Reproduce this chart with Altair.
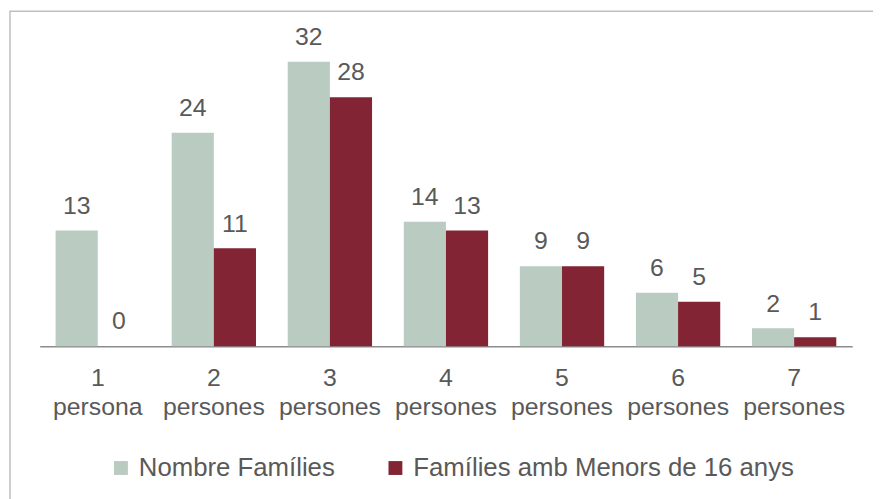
import altair as alt
import pandas as pd

categories = ["1 persona", "2 persones", "3 persones", "4 persones",
              "5 persones", "6 persones", "7 persones"]
series_names = ["Nombre Famílies", "Famílies amb Menors de 16 anys"]
nombre_families = [13, 24, 32, 14, 9, 6, 2]
families_menors = [0, 11, 28, 13, 9, 5, 1]
colors = ["#BACBC2", "#822433"]

rows = []
for c, a, b in zip(categories, nombre_families, families_menors):
    rows.append({"cat": c, "serie": series_names[0], "val": a})
    rows.append({"cat": c, "serie": series_names[1], "val": b})
df = pd.DataFrame(rows)

FONT = "Liberation Sans"
TXT = "#595959"

x = alt.X("cat:N", sort=categories, title=None,
          scale=alt.Scale(paddingInner=0.2735, paddingOuter=0.137),
          axis=alt.Axis(labelExpr="split(datum.value, ' ')", labelAngle=0,
                        labelFontSize=25, labelFont=FONT, labelColor=TXT,
                        labelLineHeight=29, labelPadding=20, ticks=False,
                        labelLimit=0,
                        domainColor="#8C8C8C", domainWidth=1.5))
y = alt.Y("val:Q", scale=alt.Scale(domain=[0, 35], nice=False), axis=None)
xo = alt.XOffset("serie:N", sort=series_names,
                 scale=alt.Scale(domain=series_names, paddingInner=0, paddingOuter=0))
color = alt.Color("serie:N", sort=series_names,
                  scale=alt.Scale(domain=series_names, range=colors),
                  legend=alt.Legend(title=None, orient="none", direction="horizontal",
                                    legendX=69, legendY=424,
                                    symbolType="square", symbolSize=196,
                                    symbolStrokeWidth=0, labelFontSize=26,
                                    labelFont=FONT, labelColor=TXT, labelLimit=0,
                                    labelOffset=5, columnPadding=48))

bars = alt.Chart(df).mark_bar().encode(x=x, y=y, xOffset=xo, color=color)
labels = alt.Chart(df).mark_text(baseline="bottom", dy=-12, fontSize=25,
                                 font=FONT, color=TXT).encode(
    x=alt.X("cat:N", sort=categories), y="val:Q", xOffset=xo, text="val:Q")

border = alt.Chart(pd.DataFrame({"a": [0]})).mark_rect(
    fill=None, stroke="#BFBFBF", strokeWidth=1.5).encode(
    x=alt.value(-30), x2=alt.value(880), y=alt.value(-24), y2=alt.value(520))

chart = alt.layer(border, bars, labels).properties(
    width=820, height=314,
    autosize=alt.AutoSizeParams(type="none"),
    padding={"left": 32, "top": 25, "right": 21, "bottom": 152},
).configure_view(stroke=None)

chart.save("out.html", embed_options={"renderer": "svg", "actions": False})
